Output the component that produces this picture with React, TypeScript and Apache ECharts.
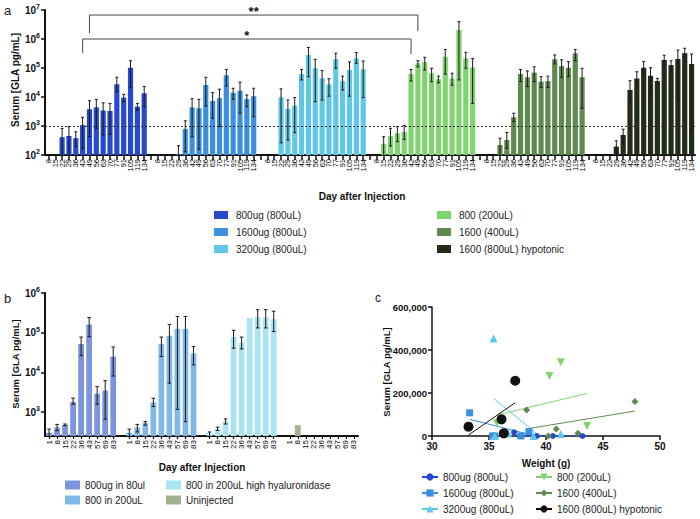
import React, { useEffect, useRef } from "react";
import * as echarts from "echarts";

const FONT = "'Liberation Sans', Arial, Helvetica, sans-serif";

// ---------- Panel a ----------
const A_DAYS = ["8", "15", "22", "29", "36", "42", "49", "56", "63", "70", "77", "91", "105", "119", "134"];
const A_NAMES = ["800ug (800uL)", "1600ug (800uL)", "3200ug (800uL)", "800 (200uL)", "1600 (400uL)", "1600 (800uL) hypotonic"];
const A_COLORS = ["#2749cf", "#3b8ee0", "#5fc7e8", "#80d46f", "#5f8a4f", "#1f2d19"];

const A1_MEAN = [null, null, 410, 455, 380, 1070, 3800, 4400, 3400, 3300, 27500, 9500, 102000, 4650, 13500];
const A1_LO = [null, null, 100, 100, 195, 170, 430, 830, 490, 510, 15100, 6900, 20900, 3550, 4700];
const A1_HI = [null, null, 830, 955, 630, 2000, 7400, 8300, 6300, 6000, 47900, 12300, 178000, 6000, 22900];

const A2_MEAN = [null, null, null, 107, 780, 4400, 4100, 26000, 7300, 9100, 56000, 14000, 16500, 8500, 10700];
const A2_LO = [null, null, null, 100, 129, 427, 158, 4900, 1860, 955, 24000, 8300, 2750, 4680, 2090];
const A2_HI = [null, null, null, 209, 1510, 8700, 8300, 47900, 14100, 18600, 89000, 20000, 32400, 11700, 20000];

const A3_MEAN = [null, null, 9800, 3900, 5000, 62000, 280000, 98000, 44000, 27000, 200000, 35000, 85000, 215000, 90000];
const A3_LO = [null, null, 263, 331, 589, 38900, 50100, 6900, 7900, 10700, 97700, 17400, 10700, 145000, 9550];
const A3_HI = [null, null, 19100, 7900, 9550, 89100, 513000, 200000, 81300, 42700, 324000, 52500, 162000, 339000, 174000];

const A4_MEAN = [null, 240, 455, 560, 630, 62000, 145000, 160000, 66000, 41000, 245000, 43500, 2040000, 215000, 105000];
const A4_LO = [null, 100, 204, 288, 347, 35500, 110000, 85100, 33900, 30900, 61700, 25700, 38900, 97700, 6000];
const A4_HI = [null, 427, 832, 955, 1050, 89100, 178000, 234000, 97700, 52500, 437000, 66100, 3980000, 347000, 214000];

const A5_MEAN = [null, null, 220, 330, 2000, 62000, 48000, 69000, 34000, 35500, 200000, 117000, 102000, 320000, 48000];
const A5_LO = [null, null, 100, 170, 1410, 33900, 22900, 33900, 21400, 21400, 138000, 47900, 50100, 178000, 4070];
const A5_HI = [null, null, 380, 603, 2750, 89100, 79400, 110000, 50100, 52500, 282000, 191000, 166000, 437000, 97700];

const A6_MEAN = [null, null, null, 195, 490, 17500, 43500, 102000, 54000, 35500, 190000, 126000, 205000, 325000, 138000];
const A6_LO = [null, null, null, 100, 251, 7940, 25700, 74100, 10200, 29500, 126000, 69200, 8300, 166000, 631];
const A6_HI = [null, null, null, 309, 776, 36300, 74100, 166000, 102000, 43700, 275000, 178000, 417000, 479000, 302000];

// significance brackets: [group, dayIndex] -> [group, dayIndex]
const A_SIG_LABELS = ["**", "*"];
const A_SIG_FROM = [[0, 6], [0, 5]];
const A_SIG_TO = [[3, 6], [3, 5]];
const A_SIG_TOP = [6.7e6, 1.0e6];
const A_SIG_LEG_L = [1.6e6, 3.3e5];
const A_SIG_LEG_R = [1.9e6, 3.0e5];

// ---------- Panel b ----------
const B_DAYS = ["1", "8", "15", "22", "36", "43", "57", "69", "83"];
const B_NAMES = ["800ug in 80ul", "800 in 200uL", "800 in 200uL high hyaluronidase", "Uninjected"];
const B_COLORS = ["#7c94e0", "#80b8ec", "#a8e4f3", "#a0b38e"];

const B1_MEAN = [300, 410, 470, 1800, 52000, 160000, 2900, 3500, 25000];
const B1_LO = [250, 340, 457, 1580, 26300, 79400, 1580, 661, 8130];
const B1_HI = [372, 490, 501, 2240, 77600, 240000, 4370, 6170, 43700];

const B2_MEAN = [300, 410, 530, 1750, 52000, 83000, 125000, 125000, 30000];
const B2_LO = [250, 316, 468, 1380, 25100, 5370, 1170, 575, 15500];
const B2_HI = [372, 490, 575, 2240, 77600, 162000, 257000, 257000, 44700];

const B3_MEAN = [295, 375, 580, 78000, 56000, 235000, 245000, 245000, 220000];
const B3_LO = [250, 347, 501, 40700, 38900, null, 132000, 132000, 107000];
const B3_HI = [316, 417, 676, 115000, 77600, null, 380000, 380000, 347000];

const B4_MEAN = [null, 470, null, null, null, null, null, null, null];
const B4_LO = [null, null, null, null, null, null, null, null, null];
const B4_HI = [null, null, null, null, null, null, null, null, null];

// ---------- Panel c ----------
const C_NAMES = A_NAMES;
const C_COLORS = ["#2749cf", "#3b8ee0", "#5fc7e8", "#80d46f", "#5f8a4f", "#111111"];
const C_SYMBOLS = ["circle", "rect", "triangle", "triangle", "diamond", "circle"];
const C_ROTATE = [0, 0, 0, 180, 0, 0];
const C_SIZES = [6, 7, 8, 8, 7, 10];

const C1_PTS = [[37.2, 17000], [37.7, 0], [39.2, 0], [40.6, 0], [43.2, 0]];
const C2_PTS = [[33.3, 108000], [35.3, 0], [35.5, 0], [37.8, 0], [38.5, 20000]];
const C3_PTS = [[35.4, 454000], [35.5, 0], [36.7, 12000], [38.9, 0], [41.3, 9000]];
const C4_PTS = [[35.7, 59000], [40.3, 279000], [41.3, 343000], [43.6, 46500]];
const C5_PTS = [[38.3, 121000], [40.2, 0], [40.9, 32500], [42.8, 12400], [47.8, 161000]];
const C6_PTS = [[33.2, 43400], [36.1, 77500], [36.3, 12400], [37.3, 257000]];

// regression line end points
const C1_FIT = [[37.2, 4000], [43.2, 0]];
const C2_FIT = [[33.3, 77500], [38.5, 8000]];
const C3_FIT = [[35.4, 175000], [41.3, -80000]];
const C4_FIT = [[35.7, 97700], [43.6, 198000]];
const C5_FIT = [[38.3, 33000], [47.8, 116000]];
const C6_FIT = [[33.2, 4600], [37.3, 155000]];

function logLabel(v: number) {
  const e = Math.round(Math.log10(v));
  return `{b|10}{s|${e}}`;
}

function errRender(half: number, axisMin: number) {
  return (params: any, api: any) => {
    const x = api.value(0);
    const lo = api.value(1);
    const hi = api.value(2);
    const pH = api.coord([x, hi]);
    const pL = api.coord([x, Math.max(lo, axisMin)]);
    const st = { stroke: "#1a1a1a", lineWidth: 1 };
    const children: any[] = [
      { type: "line", shape: { x1: pH[0], y1: pH[1], x2: pL[0], y2: pL[1] }, style: st },
      { type: "line", shape: { x1: pH[0] - half, y1: pH[1], x2: pH[0] + half, y2: pH[1] }, style: st },
    ];
    if (lo > axisMin * 1.02) {
      children.push({ type: "line", shape: { x1: pL[0] - half, y1: pL[1], x2: pL[0] + half, y2: pL[1] }, style: st });
    }
    return { type: "group", children };
  };
}

function buildOption() {
  // panel a categories
  const A_STRIDE = A_DAYS.length + 1;
  const aCats: string[] = [];
  for (let g = 0; g < A_NAMES.length; g++) {
    aCats.push(...A_DAYS);
    if (g < A_NAMES.length - 1) aCats.push("");
  }
  const aMeans = [A1_MEAN, A2_MEAN, A3_MEAN, A4_MEAN, A5_MEAN, A6_MEAN];
  const aLos = [A1_LO, A2_LO, A3_LO, A4_LO, A5_LO, A6_LO];
  const aHis = [A1_HI, A2_HI, A3_HI, A4_HI, A5_HI, A6_HI];

  const aBars = A_NAMES.map((name, g) => {
    const data: any[] = aCats.map(() => "-");
    aMeans[g].forEach((v, i) => {
      if (v != null) data[g * A_STRIDE + i] = v;
    });
    const s: any = {
      type: "bar",
      name,
      xAxisIndex: 0,
      yAxisIndex: 0,
      data,
      barWidth: "76%",
      barGap: "-100%",
      itemStyle: { color: A_COLORS[g] },
      silent: true,
      clip: true,
    };
    if (g === 0) {
      s.markLine = {
        silent: true,
        symbol: ["none", "none"],
        label: { show: false },
        lineStyle: { type: [2, 2], color: "#333", width: 1 },
        data: [{ yAxis: 1000 }],
      };
    }
    return s;
  });
  const aErr: any[] = [];
  aMeans.forEach((arr, g) =>
    arr.forEach((v, i) => {
      if (v != null && aLos[g][i] != null) aErr.push([g * A_STRIDE + i, aLos[g][i], aHis[g][i]]);
    })
  );
  const sigData = A_SIG_LABELS.map((_, k) => [
    A_SIG_FROM[k][0] * A_STRIDE + A_SIG_FROM[k][1],
    A_SIG_TO[k][0] * A_STRIDE + A_SIG_TO[k][1],
    A_SIG_TOP[k],
    A_SIG_LEG_L[k],
    A_SIG_LEG_R[k],
  ]);

  // panel b
  const B_STRIDE = B_DAYS.length + 1;
  const bCats: string[] = [];
  for (let g = 0; g < B_NAMES.length; g++) {
    bCats.push(...B_DAYS);
    if (g < B_NAMES.length - 1) bCats.push("");
  }
  const bMeans = [B1_MEAN, B2_MEAN, B3_MEAN, B4_MEAN];
  const bLos = [B1_LO, B2_LO, B3_LO, B4_LO];
  const bHis = [B1_HI, B2_HI, B3_HI, B4_HI];
  const bBars = B_NAMES.map((name, g) => {
    const data: any[] = bCats.map(() => "-");
    bMeans[g].forEach((v, i) => {
      if (v != null) data[g * B_STRIDE + i] = v;
    });
    return {
      type: "bar",
      name,
      xAxisIndex: 1,
      yAxisIndex: 1,
      data,
      barWidth: "72%",
      barGap: "-100%",
      itemStyle: { color: B_COLORS[g] },
      silent: true,
      clip: true,
    };
  });
  const bErr: any[] = [];
  bMeans.forEach((arr, g) =>
    arr.forEach((v, i) => {
      if (v != null && bLos[g][i] != null) bErr.push([g * B_STRIDE + i, bLos[g][i], bHis[g][i]]);
    })
  );

  // panel c
  const cPts = [C1_PTS, C2_PTS, C3_PTS, C4_PTS, C5_PTS, C6_PTS];
  const cFits = [C1_FIT, C2_FIT, C3_FIT, C4_FIT, C5_FIT, C6_FIT];
  const cLines = C_NAMES.map((n, g) => ({
    type: "line",
    name: "c:" + n,
    xAxisIndex: 2,
    yAxisIndex: 2,
    data: cFits[g],
    symbol: C_SYMBOLS[g],
    symbolRotate: C_ROTATE[g],
    symbolSize: C_SIZES[g],
    showSymbol: false,
    lineStyle: { width: 1, color: C_COLORS[g] },
    itemStyle: { color: C_COLORS[g] },
    silent: true,
    clip: true,
    z: 2,
  }));
  const cScatter = C_NAMES.map((n, g) => ({
    type: "scatter",
    name: "pts" + g,
    xAxisIndex: 2,
    yAxisIndex: 2,
    data: cPts[g],
    symbol: C_SYMBOLS[g],
    symbolRotate: C_ROTATE[g],
    symbolSize: C_SIZES[g],
    itemStyle: { color: C_COLORS[g], opacity: 1 },
    silent: true,
    z: 3,
  }));

  const axisLineA = { show: true, lineStyle: { color: "#111", width: 2 } };
  const richLog = {
    b: { fontSize: 10, fontWeight: "bold", color: "#111", fontFamily: FONT },
    s: { fontSize: 7, fontWeight: "bold", color: "#111", fontFamily: FONT, padding: [0, 0, 7, 0] },
  };

  const legText = { fontSize: 10, color: "#222", fontFamily: FONT, lineHeight: 12 };
  const legendBase = {
    orient: "vertical",
    selectedMode: false,
    icon: "rect",
    padding: 0,
    textStyle: legText,
  };
  const cFmt = (n: string) => n.replace(/^c:/, "");

  return {
    animation: false,
    backgroundColor: "#ffffff",
    textStyle: { fontFamily: FONT },
    grid: [
      { left: 45, top: 10, width: 650, height: 145, containLabel: false, outerBoundsMode: "none" },
      { left: 45, top: 293, width: 313, height: 143, containLabel: false, outerBoundsMode: "none" },
      { left: 432, top: 307, width: 228, height: 129, containLabel: false, outerBoundsMode: "none" },
    ],
    xAxis: [
      {
        type: "category",
        gridIndex: 0,
        data: aCats,
        boundaryGap: true,
        axisLine: axisLineA,
        axisTick: { show: true, alignWithLabel: true, interval: 0, length: 5, lineStyle: { color: "#111", width: 1.5 } },
        axisLabel: { interval: 0, rotate: 90, fontSize: 7.5, color: "#000", margin: 4, fontFamily: FONT },
        splitLine: { show: false },
      },
      {
        type: "category",
        gridIndex: 1,
        data: bCats,
        boundaryGap: true,
        axisLine: axisLineA,
        axisTick: {
          show: true,
          alignWithLabel: true,
          interval: (i: number, v: string) => v !== "",
          length: 3,
          lineStyle: { color: "#111", width: 1.2 },
        },
        axisLabel: { interval: 0, rotate: 90, fontSize: 8, color: "#000", margin: 4, fontFamily: FONT },
        splitLine: { show: false },
      },
      {
        type: "value",
        gridIndex: 2,
        min: 30,
        max: 50,
        interval: 5,
        axisLine: { show: true, lineStyle: { color: "#111", width: 1.5 } },
        axisTick: { show: true, length: 4, lineStyle: { color: "#111", width: 1.5 } },
        axisLabel: { fontSize: 10, fontWeight: "bold", color: "#111", margin: 5, fontFamily: FONT },
        splitLine: { show: false },
      },
    ],
    yAxis: [
      {
        type: "log",
        gridIndex: 0,
        logBase: 10,
        min: 100,
        max: 1e7,
        axisLine: axisLineA,
        axisTick: { show: true, length: 4, lineStyle: { color: "#111", width: 1.5 } },
        axisLabel: { formatter: logLabel, rich: richLog, margin: 5 },
        splitLine: { show: false },
      },
      {
        type: "log",
        gridIndex: 1,
        logBase: 10,
        min: 250,
        max: 1e6,
        axisLine: axisLineA,
        axisTick: { show: true, length: 4, lineStyle: { color: "#111", width: 1.5 } },
        axisLabel: { formatter: logLabel, rich: richLog, margin: 5, showMinLabel: false },
        splitLine: { show: false },
      },
      {
        type: "value",
        gridIndex: 2,
        min: 0,
        max: 600000,
        interval: 200000,
        axisLine: { show: true, lineStyle: { color: "#111", width: 1.5 } },
        axisTick: { show: true, length: 4, lineStyle: { color: "#111", width: 1.5 } },
        axisLabel: {
          fontSize: 9.5,
          fontWeight: "bold",
          color: "#111",
          margin: 5,
          fontFamily: FONT,
          formatter: (v: number) => v.toLocaleString("en-US"),
        },
        splitLine: { show: false },
      },
    ],
    legend: [
      { ...legendBase, left: 214, top: 209, height: 60, itemWidth: 14, itemHeight: 8, itemGap: 5, data: A_NAMES.slice(0, 3),
        textStyle: { ...legText, padding: [0, 0, 0, 3] } },
      { ...legendBase, left: 437, top: 209, height: 60, itemWidth: 14, itemHeight: 8, itemGap: 5, data: A_NAMES.slice(3),
        textStyle: { ...legText, padding: [0, 0, 0, 3] } },
      { ...legendBase, left: 65, top: 479, height: 40, itemWidth: 15, itemHeight: 9, itemGap: 3, data: B_NAMES.slice(0, 2) },
      { ...legendBase, left: 166, top: 479, height: 40, itemWidth: 15, itemHeight: 9, itemGap: 3, data: B_NAMES.slice(2) },
      { orient: "vertical", selectedMode: false, padding: 0, left: 421, top: 471, height: 48, itemWidth: 16, itemHeight: 9, itemGap: 4,
        data: C_NAMES.slice(0, 3).map((n) => "c:" + n), formatter: cFmt, textStyle: legText },
      { orient: "vertical", selectedMode: false, padding: 0, left: 535, top: 471, height: 48, itemWidth: 16, itemHeight: 9, itemGap: 4,
        data: C_NAMES.slice(3).map((n) => "c:" + n), formatter: cFmt, textStyle: legText },
    ],
    graphic: [
      { type: "text", x: 4, y: 10, style: { text: "a", font: `13px ${FONT}`, fill: "#222", verticalAlign: "middle" } },
      { type: "text", x: 15, y: 80, rotation: Math.PI / 2,
        style: { text: "Serum [GLA pg/mL]", font: `bold 10px ${FONT}`, fill: "#111", align: "center", verticalAlign: "middle" } },
      { type: "text", x: 362, y: 196,
        style: { text: "Day after Injection", font: `bold 10px ${FONT}`, fill: "#111", align: "center", verticalAlign: "middle" } },
      { type: "text", x: 4, y: 298, style: { text: "b", font: `13px ${FONT}`, fill: "#222", verticalAlign: "middle" } },
      { type: "text", x: 15, y: 364, rotation: Math.PI / 2,
        style: { text: "Serum [GLA pg/mL]", font: `bold 9.5px ${FONT}`, fill: "#111", align: "center", verticalAlign: "middle" } },
      { type: "text", x: 202, y: 467,
        style: { text: "Day after Injection", font: `bold 10px ${FONT}`, fill: "#111", align: "center", verticalAlign: "middle" } },
      { type: "text", x: 375, y: 298, style: { text: "c", font: `12px ${FONT}`, fill: "#222", verticalAlign: "middle" } },
      { type: "text", x: 386, y: 372, rotation: Math.PI / 2,
        style: { text: "Serum [GLA pg/mL]", font: `bold 9.5px ${FONT}`, fill: "#111", align: "center", verticalAlign: "middle" } },
      { type: "text", x: 546, y: 463,
        style: { text: "Weight (g)", font: `bold 10px ${FONT}`, fill: "#111", align: "center", verticalAlign: "middle" } },
    ],
    series: [
      ...aBars,
      {
        type: "custom",
        xAxisIndex: 0,
        yAxisIndex: 0,
        data: aErr,
        renderItem: errRender(1.5, 100),
        silent: true,
        z: 5,
      },
      {
        type: "custom",
        xAxisIndex: 0,
        yAxisIndex: 0,
        data: sigData,
        clip: false,
        silent: true,
        z: 6,
        renderItem: (params: any, api: any) => {
          const k = params.dataIndex;
          const a = api.coord([api.value(0), api.value(2)]);
          const b = api.coord([api.value(1), api.value(2)]);
          const l = api.coord([api.value(0), api.value(3)]);
          const r = api.coord([api.value(1), api.value(4)]);
          return {
            type: "group",
            children: [
              {
                type: "polyline",
                shape: { points: [[l[0], l[1]], [a[0], a[1]], [b[0], b[1]], [r[0], r[1]]] },
                style: { stroke: "#444", lineWidth: 1, fill: "none" },
              },
              {
                type: "text",
                x: (a[0] + b[0]) / 2,
                y: a[1] - 4,
                style: {
                  text: A_SIG_LABELS[k],
                  font: `bold 13px ${FONT}`,
                  fill: "#111",
                  align: "center",
                  verticalAlign: "middle",
                },
              },
            ],
          };
        },
      },
      ...bBars,
      {
        type: "custom",
        xAxisIndex: 1,
        yAxisIndex: 1,
        data: bErr,
        renderItem: errRender(1.8, 250),
        silent: true,
        z: 5,
      },
      ...cLines,
      ...cScatter,
    ],
  };
}

export default function App() {
  const ref = useRef<HTMLDivElement>(null);
  useEffect(() => {
    const chart = echarts.init(ref.current as HTMLDivElement, null, { renderer: "svg" });
    chart.setOption(buildOption() as any);
    return () => chart.dispose();
  }, []);
  return <div ref={ref} style={{ position: "absolute", left: 0, top: 0, width: 700, height: 519 }} />;
}
